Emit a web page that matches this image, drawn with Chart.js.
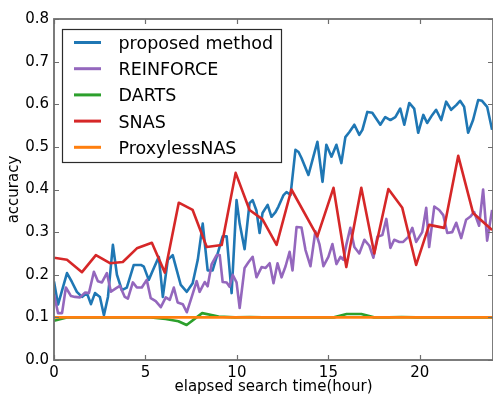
<!DOCTYPE html>
<html><head><meta charset="utf-8">
<script src="https://cdn.jsdelivr.net/npm/chart.js@4/dist/chart.umd.min.js"></script>
<style>html,body{margin:0;padding:0;background:#fff}canvas{display:block}</style>
</head><body>
<canvas id="c" width="493" height="396"></canvas>
<script>
const seriesNames = ['proposed method', 'REINFORCE', 'DARTS', 'SNAS', 'ProxylessNAS'];
const xTicks = [0, 5, 10, 15, 20];
const yTicks = [0, 0.1, 0.2, 0.3, 0.4, 0.5, 0.6, 0.7, 0.8];
const xTitle = 'elapsed search time(hour)';
const yTitle = 'accuracy';

const proposedHours = [0.00,0.22,0.71,0.98,1.25,1.53,1.80,2.02,2.24,2.51,2.73,2.95,3.22,3.44,3.71,3.98,4.36,4.75,4.91,5.18,5.46,5.73,5.95,6.22,6.49,6.71,6.93,7.26,7.58,7.86,8.13,8.40,8.67,8.95,9.22,9.44,9.71,9.98,10.15,10.42,10.69,10.86,11.07,11.24,11.40,11.68,11.89,12.11,12.27,12.55,12.71,12.93,13.20,13.37,13.53,13.91,14.18,14.40,14.68,14.89,15.17,15.44,15.71,15.93,16.15,16.42,16.69,16.86,17.13,17.40,17.84,18.11,18.39,18.66,18.93,19.15,19.42,19.69,19.91,20.19,20.40,20.68,20.89,21.17,21.44,21.71,21.99,22.20,22.42,22.64,22.91,23.19,23.40,23.68,23.95];
const proposedAcc = [0.184,0.130,0.204,0.183,0.160,0.148,0.157,0.131,0.157,0.148,0.105,0.148,0.270,0.200,0.164,0.170,0.223,0.223,0.219,0.188,0.216,0.242,0.148,0.235,0.246,0.211,0.176,0.160,0.180,0.235,0.320,0.210,0.210,0.250,0.290,0.290,0.157,0.375,0.320,0.260,0.368,0.375,0.350,0.298,0.345,0.364,0.336,0.347,0.360,0.387,0.394,0.387,0.493,0.488,0.474,0.434,0.477,0.512,0.418,0.505,0.477,0.505,0.462,0.523,0.535,0.552,0.528,0.540,0.582,0.580,0.552,0.570,0.563,0.570,0.590,0.552,0.603,0.590,0.533,0.575,0.556,0.575,0.587,0.563,0.606,0.587,0.598,0.608,0.594,0.533,0.563,0.610,0.608,0.594,0.540];

const reinforceHours = [0.00,0.22,0.44,0.65,0.93,1.15,1.42,1.69,1.91,2.18,2.40,2.62,2.89,3.11,3.38,3.60,3.87,4.04,4.31,4.53,4.80,5.07,5.29,5.56,5.84,6.11,6.33,6.55,6.76,7.04,7.26,7.53,7.80,7.96,8.24,8.40,8.62,8.89,9.06,9.22,9.44,9.60,9.77,9.98,10.15,10.42,10.64,10.86,11.07,11.35,11.57,11.79,12.00,12.22,12.44,12.66,12.88,13.04,13.26,13.53,13.75,14.02,14.29,14.51,14.73,15.00,15.22,15.44,15.66,15.82,15.98,16.20,16.42,16.69,16.97,17.24,17.46,17.68,17.95,18.17,18.39,18.60,18.88,19.09,19.37,19.59,19.80,20.13,20.35,20.51,20.79,21.06,21.28,21.50,21.77,21.99,22.26,22.53,22.75,22.97,23.24,23.46,23.68,23.95];
const reinforceAcc = [0.155,0.110,0.110,0.170,0.150,0.148,0.147,0.158,0.157,0.207,0.185,0.182,0.204,0.160,0.168,0.174,0.148,0.144,0.182,0.170,0.170,0.188,0.145,0.138,0.124,0.147,0.141,0.170,0.135,0.131,0.112,0.148,0.185,0.160,0.183,0.173,0.225,0.246,0.246,0.183,0.182,0.172,0.200,0.182,0.122,0.216,0.230,0.242,0.194,0.218,0.216,0.227,0.180,0.227,0.194,0.220,0.254,0.210,0.312,0.311,0.258,0.220,0.302,0.272,0.220,0.242,0.272,0.225,0.242,0.235,0.270,0.310,0.265,0.250,0.282,0.268,0.240,0.289,0.293,0.331,0.263,0.282,0.277,0.277,0.289,0.310,0.277,0.300,0.357,0.265,0.360,0.352,0.340,0.298,0.300,0.322,0.286,0.329,0.336,0.347,0.315,0.400,0.280,0.352];

const dartsHours = [0.00,0.70,1.50,2.30,3.10,3.80,4.50,5.30,6.10,6.80,7.25,8.10,9.00,9.90,10.70,11.40,12.20,13.00,14.40,15.30,16.00,16.80,17.50,18.30,19.00,19.80,20.50,21.30,22.10,22.90,24.00];
const dartsAcc = [0.092,0.100,0.100,0.100,0.100,0.100,0.100,0.100,0.096,0.091,0.082,0.110,0.102,0.100,0.101,0.100,0.100,0.100,0.100,0.100,0.108,0.108,0.100,0.100,0.101,0.100,0.100,0.100,0.100,0.100,0.100];

const snasHours = [0.00,0.71,1.53,2.29,3.06,3.76,4.53,5.35,6.06,6.82,7.58,8.35,9.17,9.93,10.69,11.40,12.17,12.98,14.40,15.28,15.98,16.80,17.51,18.28,19.04,19.80,20.51,21.33,22.10,22.91,23.95];
const snasAcc = [0.240,0.235,0.206,0.246,0.227,0.230,0.262,0.275,0.205,0.369,0.352,0.265,0.270,0.439,0.352,0.330,0.270,0.400,0.290,0.404,0.218,0.404,0.250,0.401,0.357,0.223,0.317,0.310,0.479,0.345,0.305];

const proxylessHours = [0, 4, 8, 12, 16, 20, 24];
const proxylessAcc = [0.100,0.100,0.100,0.100,0.100,0.100,0.100];

const colors = ['#1f77b4', '#9467bd', '#2ca02c', '#d62728', '#ff7f0e'];
const hoursList = [proposedHours, reinforceHours, dartsHours, snasHours, proxylessHours];
const accList = [proposedAcc, reinforceAcc, dartsAcc, snasAcc, proxylessAcc];

const FONT = "'DejaVu Sans', sans-serif";

const datasets = seriesNames.map((name, i) => ({
  label: name,
  data: hoursList[i].map((h, j) => ({x: h, y: accList[i][j]})),
  borderColor: colors[i],
  backgroundColor: colors[i],
  borderWidth: 2.6,
  pointRadius: 0,
  tension: 0,
  fill: false,
  order: 5 - i,
  borderJoinStyle: 'round',
  borderCapStyle: 'butt'
}));

const framePlugin = {
  id: 'frame',
  afterDatasetsDraw(chart) {
    const {ctx, chartArea: a, scales} = chart;
    ctx.save();
    ctx.strokeStyle = '#6e6e6e';
    ctx.lineWidth = 1.2;
    // inward ticks on all sides
    const tl = 5;
    xTicks.forEach(v => {
      const px = Math.round(scales.x.getPixelForValue(v)) + 0.5;
      ctx.beginPath();
      ctx.moveTo(px, a.bottom); ctx.lineTo(px, a.bottom - tl);
      ctx.moveTo(px, a.top); ctx.lineTo(px, a.top + tl);
      ctx.stroke();
    });
    yTicks.forEach(v => {
      const py = Math.round(scales.y.getPixelForValue(v)) + 0.5;
      ctx.beginPath();
      ctx.moveTo(a.left, py); ctx.lineTo(a.left + tl, py);
      ctx.moveTo(a.right, py); ctx.lineTo(a.right - tl, py);
      ctx.stroke();
    });
    ctx.lineWidth = 1.8;
    ctx.strokeRect(a.left, a.top, a.right - a.left, a.bottom - a.top);
    // legend
    const bx = 62.5, by = 29.5, bw = 219, bh = 133;
    ctx.fillStyle = '#ffffff';
    ctx.fillRect(bx, by, bw, bh);
    ctx.strokeStyle = '#2b2b2b';
    ctx.lineWidth = 1.2;
    ctx.strokeRect(bx, by, bw, bh);
    ctx.font = '17.5px ' + FONT;
    ctx.textAlign = 'left';
    ctx.textBaseline = 'alphabetic';
    chart.data.datasets.forEach((ds, i) => {
      const cy = 42.5 + i * 26.2;
      ctx.strokeStyle = ds.borderColor;
      ctx.lineWidth = 3;
      ctx.beginPath();
      ctx.moveTo(74, cy); ctx.lineTo(101, cy);
      ctx.stroke();
      ctx.fillStyle = '#000';
      ctx.fillText(ds.label, 118.5, cy + 6.4);
    });
    ctx.restore();
  }
};

new Chart(document.getElementById('c'), {
  type: 'line',
  data: {datasets},
  options: {
    responsive: false,
    animation: false,
    devicePixelRatio: 1,
    layout: {padding: {top: 19, right: 0, left: 0, bottom: 0}},
    plugins: {legend: {display: false}, tooltip: {enabled: false}},
    scales: {
      x: {
        type: 'linear', min: 0, max: 24,
        afterBuildTicks: s => { s.ticks = xTicks.map(v => ({value: v})); },
        afterFit: s => { s.height = 36; },
        grid: {display: false, drawTicks: false},
        border: {display: false},
        ticks: {padding: 4, color: '#000', maxRotation: 0, autoSkip: false, font: {family: FONT, size: 15}},
        title: {display: true, text: xTitle, color: '#000', font: {family: FONT, size: 15}, padding: {top: 0, bottom: 0}}
      },
      y: {
        type: 'linear', min: 0, max: 0.8,
        afterBuildTicks: s => { s.ticks = yTicks.map(v => ({value: v})); },
        afterFit: s => { s.width = 54; },
        grid: {display: false, drawTicks: false},
        border: {display: false},
        ticks: {padding: 5, color: '#000', autoSkip: false, font: {family: FONT, size: 15}, callback: v => Number(v).toFixed(1)},
        title: {display: true, text: yTitle, color: '#000', font: {family: FONT, size: 15}, padding: {top: 5, bottom: 0}}
      }
    }
  },
  plugins: [framePlugin]
});
</script>
</body></html>
